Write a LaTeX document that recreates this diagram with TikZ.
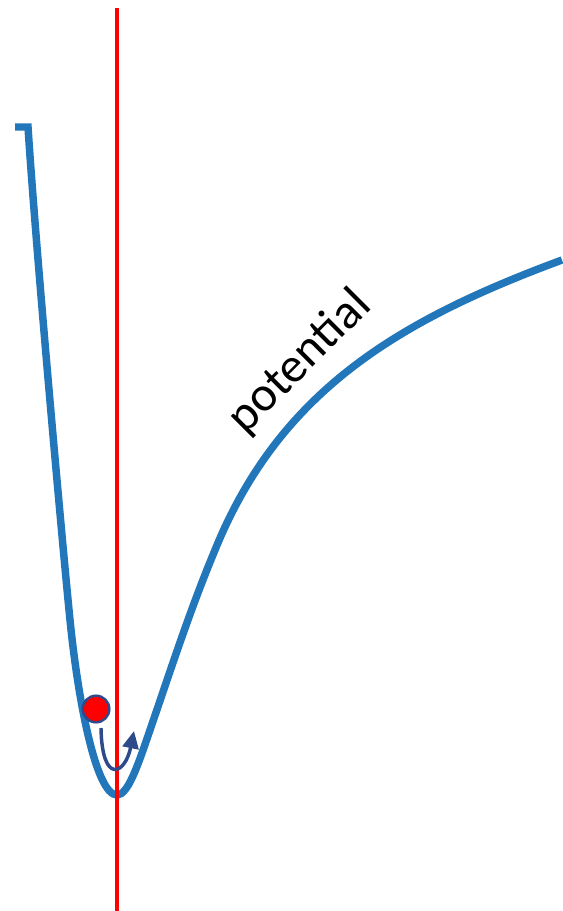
\documentclass[tikz,border=0pt]{standalone}
\usepackage{fontspec}
\setmainfont{Carlito}
\usepackage{tikz}
\usetikzlibrary{arrows.meta}
\definecolor{curveblue}{HTML}{2277BB}
\definecolor{arrowblue}{HTML}{2F4A8A}
\tikzstyle{curve}=[curveblue, line width=5.6pt, line join=miter]
\tikzstyle{particle}=[circle, fill=red, draw=arrowblue, line width=1.8pt, minimum size=20pt, inner sep=0pt]

\begin{document}
\begin{tikzpicture}
        [x=0.75pt,y=-0.75pt]
            \useasboundingbox (0,0) rectangle (562,911);
            % potential well
            \draw [curve] (15,127) -- (28,127)
                .. controls (36,250) and (62,540) .. (70,620)
                .. controls (78,700) and (96,795) .. (117,795)
                .. controls (128,795) and (138,765) .. (150,730)
                .. controls (172,666) and (190,610) .. (215,550)
                .. controls (280,390) and (400,320) .. (562,260) ;
            \draw [red, line width=2.5pt] (117,8) -- (117,911) ;
            \node [particle] (ball) at (96,709) {} ;
            \coordinate (swing) at (101,728) ;
            \coordinate (swingend) at (134,731) ;
            \draw [arrowblue, line width=2.6pt, -{Triangle[length=13pt,width=12pt]}] (swing) .. controls (102,785) and (125,775) .. (swingend) ;
            \node [rotate=45, font=\fontsize{37}{40}\selectfont] (label) at (300,362) {potential} ;
        \end{tikzpicture}
\end{document}
